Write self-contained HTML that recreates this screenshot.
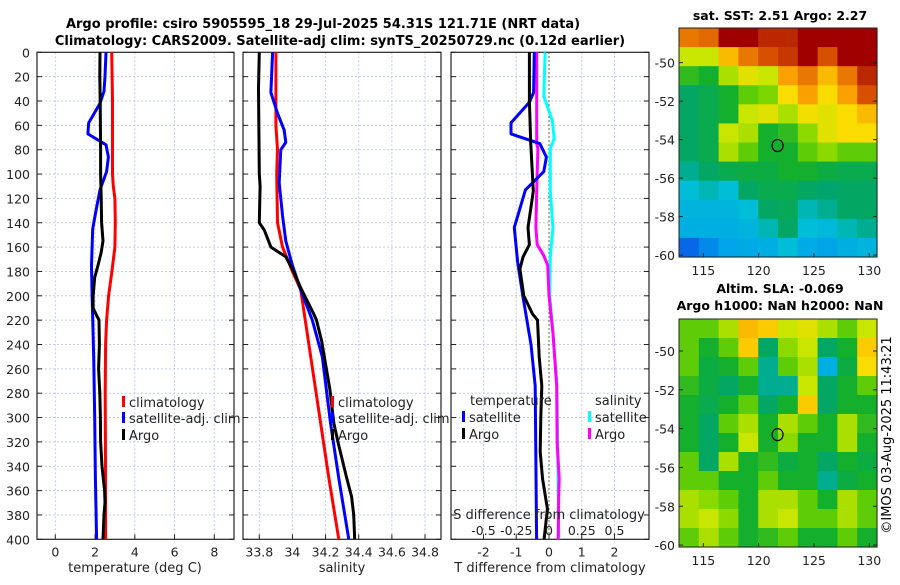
<!DOCTYPE html>
<html><head><meta charset="utf-8"><style>
body{margin:0;background:#fff;}
svg text{font-family:"DejaVu Sans","Liberation Sans",sans-serif;}
</style></head><body>
<svg id="fig" width="900" height="580" xmlns="http://www.w3.org/2000/svg">
<rect width="900" height="580" fill="#fff"/>
<text x="323" y="28" font-size="13" font-weight="bold" text-anchor="middle">Argo profile: csiro 5905595_18 29-Jul-2025 54.31S 121.71E (NRT data)</text>
<text x="340" y="45" font-size="13" font-weight="bold" text-anchor="middle">Climatology: CARS2009. Satellite-adj clim: synTS_20250729.nc (0.12d earlier)</text>
<text x="780" y="20" font-size="12.5" font-weight="bold" text-anchor="middle">sat. SST: 2.51 Argo: 2.27</text>
<text x="780" y="293" font-size="12.5" font-weight="bold" text-anchor="middle">Altim. SLA: -0.069</text>
<text x="780" y="310" font-size="12.5" font-weight="bold" text-anchor="middle">Argo h1000: NaN h2000: NaN</text>
<text transform="translate(891,435) rotate(-90)" font-size="13" text-anchor="middle">©IMOS 03-Aug-2025 11:43:21</text>
<g id="g"></g>
</svg>
<script>
// ---------- data ----------
const tClimDepth=[0,20,40,60,80,100,110,120,140,160,180,200,220,240,280,320,360,400];
const tClimVal=[2.84,2.86,2.88,2.88,2.88,2.88,2.92,3.0,3.02,3.0,2.85,2.68,2.58,2.53,2.51,2.52,2.53,2.53];
const tSatDepth=[0,20,32,42,58,67,76,86,98,113,130,145,175,200,250,300,350,400];
const tSatVal=[2.55,2.5,2.45,2.25,1.68,1.64,2.55,2.67,2.58,2.25,2.05,1.88,1.82,1.85,1.93,1.98,2.02,2.08];
const tArgoDepth=[0,20,40,60,80,100,120,140,155,165,175,185,200,210,215,220,240,260,280,300,320,340,360,370,380,400];
const tArgoVal=[2.25,2.24,2.26,2.27,2.28,2.28,2.31,2.33,2.4,2.3,2.15,1.98,1.9,1.9,2.05,2.2,2.22,2.18,2.24,2.27,2.28,2.35,2.48,2.5,2.45,2.4];
const sClimDepth=[0,40,60,80,100,140,160,170,180,195,250,300,350,400];
const sClimVal=[33.9,33.9,33.9,33.91,33.905,33.91,33.94,33.97,34.0,34.05,34.11,34.165,34.22,34.28];
const sSatDepth=[0,33,50,64,74,80,107,134,155,175,195,220,250,305,350,400];
const sSatVal=[33.88,33.87,33.91,33.95,33.96,33.93,33.92,33.94,33.96,34.0,34.05,34.12,34.18,34.23,34.28,34.34];
const sArgoDepth=[0,30,100,110,140,146,160,168,178,195,214,220,237,277,305,321,349,365,380,400];
const sArgoVal=[33.8,33.795,33.8,33.805,33.8,33.83,33.87,33.96,34.0,34.055,34.125,34.145,34.176,34.226,34.25,34.276,34.326,34.357,34.37,34.376];
const dtSatDepth=[0,33,41,58,67,75,86,98,113,144,172,200,240,274,400];
const dtSatVal=[-0.45,-0.47,-0.6,-1.16,-1.16,-0.28,-0.08,-0.16,-0.72,-1.06,-0.96,-0.8,-0.55,-0.42,-0.38];
const dtArgoDepth=[0,40,74,114,144,158,168,178,200,215,220,250,274,300,328,350,375,400];
const dtArgoVal=[-0.6,-0.6,-0.56,-0.48,-0.64,-0.6,-0.79,-0.89,-0.77,-0.5,-0.35,-0.3,-0.22,-0.25,-0.27,-0.2,-0.05,-0.15];
const dsSatDepth=[0,36,56,71,79,114,144,168,200,230,274,400];
const dsSatVal=[-0.03,-0.04,0.025,0.04,0.01,0.01,0.03,0.01,0.005,0.03,0.06,0.075];
const dsArgoDepth=[0,75,79,114,144,158,167,175,200,230,274,320,350,364,400];
const dsArgoVal=[-0.094,-0.094,-0.085,-0.094,-0.1,-0.09,-0.04,-0.01,0.0,0.03,0.059,0.062,0.078,0.074,0.07];
const depthTicks=[0,20,40,60,80,100,120,140,160,180,200,220,240,260,280,300,320,340,360,380,400];
const tTicks=[0,2,4,6,8];
const sTicks=[33.8,34,34.2,34.4,34.6,34.8];
const sTickLabels=["33.8","34","34.2","34.4","34.6","34.8"];
const dtTicks=[-2,-1,0,1,2];
const dsTicks=[-0.5,-0.25,0,0.25,0.5];
const latTicks=[-50,-52,-54,-56,-58,-60];
const lonTicks=[115,120,125,130];
const argoLon=121.71, argoLat=-54.31;
const sstGrid=[
[0.8,0.82,0.95,0.95,0.9,0.9,0.95,0.95,0.95,0.95],
[0.62,0.62,0.72,0.8,0.85,0.88,0.95,0.85,0.95,0.95],
[0.52,0.5,0.6,0.65,0.62,0.75,0.8,0.72,0.8,0.9],
[0.45,0.47,0.5,0.55,0.57,0.68,0.75,0.68,0.75,0.85],
[0.45,0.47,0.5,0.62,0.65,0.6,0.67,0.65,0.68,0.72],
[0.45,0.47,0.62,0.6,0.5,0.52,0.58,0.65,0.68,0.68],
[0.45,0.47,0.6,0.55,0.5,0.5,0.55,0.58,0.55,0.55],
[0.42,0.45,0.47,0.48,0.48,0.5,0.5,0.48,0.47,0.47],
[0.38,0.4,0.38,0.45,0.47,0.47,0.45,0.44,0.45,0.45],
[0.36,0.36,0.36,0.38,0.45,0.46,0.4,0.42,0.45,0.45],
[0.35,0.35,0.35,0.36,0.4,0.45,0.38,0.37,0.4,0.42],
[0.27,0.3,0.33,0.34,0.35,0.38,0.34,0.33,0.35,0.36]];
const slaGrid=[
[0.55,0.55,0.6,0.72,0.7,0.62,0.65,0.6,0.55,0.62],
[0.55,0.5,0.55,0.7,0.45,0.58,0.62,0.45,0.5,0.7],
[0.55,0.48,0.5,0.55,0.42,0.55,0.6,0.35,0.48,0.68],
[0.52,0.48,0.45,0.5,0.42,0.42,0.62,0.45,0.5,0.55],
[0.5,0.47,0.5,0.55,0.45,0.5,0.7,0.45,0.5,0.5],
[0.5,0.45,0.55,0.6,0.5,0.6,0.55,0.5,0.6,0.52],
[0.5,0.45,0.5,0.62,0.5,0.58,0.5,0.5,0.6,0.5],
[0.55,0.45,0.6,0.5,0.52,0.48,0.5,0.45,0.5,0.48],
[0.55,0.55,0.5,0.5,0.55,0.5,0.5,0.42,0.48,0.5],
[0.6,0.58,0.55,0.5,0.6,0.6,0.55,0.5,0.6,0.55],
[0.6,0.62,0.58,0.5,0.6,0.62,0.55,0.55,0.6,0.55],
[0.55,0.6,0.55,0.5,0.52,0.55,0.5,0.5,0.55,0.5]];

// ---------- helpers ----------
const NS="http://www.w3.org/2000/svg";
const G=document.getElementById('g');
function mk(tag,attrs,parent){const e=document.createElementNS(NS,tag);for(const k in attrs)e.setAttribute(k,attrs[k]);(parent||G).appendChild(e);return e;}
const PT=52.3,PB=539.3;
function yD(d){return PT+(d/400)*(PB-PT);}
function lin(d0,d1,r0,r1){return v=>r0+(v-d0)/(d1-d0)*(r1-r0);}
const panels=[
 {x0:37,x1:234,sc:lin(0,8,55.3,214.3),ticks:tTicks,labels:tTicks.map(String),name:'temperature'},
 {x0:243,x1:441,sc:lin(33.8,34.8,259.3,425),ticks:sTicks,labels:sTickLabels,name:'salinity'},
 {x0:451,x1:649,sc:lin(-2,2,483.5,614.5),ticks:dtTicks,labels:dtTicks.map(String),name:'difference'}];
panels.forEach((p,i)=>{
  const grp=mk('g',{});
  
  
  depthTicks.forEach(d=>{ if(d>0&&d<400){const l=mk('line',{x1:p.x0,x2:p.x1,y1:yD(d),y2:yD(d),stroke:'#c4cbe6','stroke-width':1,'stroke-dasharray':'2,2'},grp);}});
  p.ticks.forEach(t=>{const x=p.sc(t);const l=mk('line',{x1:x,x2:x,y1:PT,y2:PB,stroke:'#c4cbe6','stroke-width':1,'stroke-dasharray':'2,2'},grp);
    const tm=mk('line',{x1:x,x2:x,y1:PB,y2:PB-5,stroke:'#222'},grp);
    const tx=mk('text',{x:x,y:PB+17,'font-size':12.5,'text-anchor':'middle',fill:'#222'},grp);tx.textContent=p.labels[p.ticks.indexOf(t)];});
  depthTicks.forEach(d=>{const y=yD(d);
    mk('line',{x1:p.x0,x2:p.x0+5,y1:y,y2:y,stroke:'#222'},grp);
    mk('line',{x1:p.x1,x2:p.x1-5,y1:y,y2:y,stroke:'#222'},grp);
    if(i===0){const tx=mk('text',{x:30,y:y+5,'font-size':12.5,'text-anchor':'end',fill:'#222'},grp);tx.textContent=d;}});
  const fr=mk('rect',{x:p.x0,y:PT,width:p.x1-p.x0,height:PB-PT,fill:'none',stroke:'#222','stroke-width':1.2},grp);
  
  p.g=grp;
});
const dsScale=lin(-0.5,0.5,483.5,614.5);
const zl=mk('line',{x1:panels[2].sc(0),x2:panels[2].sc(0),y1:PT,y2:PB,stroke:'#556b2f','stroke-width':1.2,'stroke-dasharray':'1.5,2.5'});

function profile(depths,vals,sc,color,name,w){
  const pts=depths.map((d,k)=>sc(vals[k]).toFixed(1)+','+yD(d).toFixed(1)).join(' ');
  const pl=mk('polyline',{points:pts,fill:'none',stroke:color,'stroke-width':w||3,'stroke-linejoin':'round'});
  
  
}
profile(tClimDepth,tClimVal,panels[0].sc,'#ff0000','temp-climatology-line');
profile(tSatDepth,tSatVal,panels[0].sc,'#0000ff','temp-satellite-line');
profile(tArgoDepth,tArgoVal,panels[0].sc,'#000','temp-argo-line');
profile(sClimDepth,sClimVal,panels[1].sc,'#ff0000','sal-climatology-line');
profile(sSatDepth,sSatVal,panels[1].sc,'#0000ff','sal-satellite-line');
profile(sArgoDepth,sArgoVal,panels[1].sc,'#000','sal-argo-line');
profile(dsSatDepth,dsSatVal,dsScale,'#00ffff','sdiff-satellite-line');
profile(dsArgoDepth,dsArgoVal,dsScale,'#ff00ff','sdiff-argo-line');
profile(dtSatDepth,dtSatVal,panels[2].sc,'#0000ff','tdiff-satellite-line');
profile(dtArgoDepth,dtArgoVal,panels[2].sc,'#000','tdiff-argo-line');
function txt(x,y,s,fs,anchor,name){const t=mk('text',{x:x,y:y,'font-size':fs,'text-anchor':anchor||'middle',fill:'#222'});t.textContent=s;return t;}
txt(135,572,'temperature (deg C)',13,'middle','x-axis-title-temperature');
txt(342,572,'salinity',13,'middle','x-axis-title-salinity');
txt(550,572,'T difference from climatology',13,'middle','x-axis-title-tdiff');
txt(549,519,'S difference from climatology',13,'middle','inner-axis-title-sdiff');
dsTicks.forEach(v=>{txt(dsScale(v),535,String(v),12.5,'middle','sdiff-tick-label');});
function legend(x,y,color,label){const r=mk('rect',{x:x,y:y-11,width:3,height:11,fill:color});txt(x+7,y,label,13,'start','legend-entry');}
legend(122,407,'#ff0000','climatology');legend(122,423,'#0000ff','satellite-adj. clim');legend(122,440,'#000','Argo');
legend(331,407,'#ff0000','climatology');legend(331,423,'#0000ff','satellite-adj. clim');legend(331,440,'#000','Argo');
txt(470,405,'temperature',13,'start','legend-header-temperature');
legend(462,422,'#0000ff','satellite');legend(462,439,'#000','Argo');
txt(595,405,'salinity',13,'start','legend-header-salinity');
legend(588,422,'#00ffff','satellite');legend(588,439,'#ff00ff','Argo');
// ---------- maps ----------
const cmapStops=[[0.25,[10,80,230]],[0.32,[0,160,235]],[0.38,[0,190,215]],[0.44,[0,165,110]],[0.5,[20,175,45]],[0.56,[110,210,0]],[0.62,[200,230,0]],[0.68,[250,220,0]],[0.75,[250,160,0]],[0.85,[215,80,0]],[0.95,[160,0,0]]];
function cmap(v){
  if(v<=cmapStops[0][0])return 'rgb('+cmapStops[0][1].join(',')+')';
  for(let i=1;i<cmapStops.length;i++){if(v<=cmapStops[i][0]){const a=cmapStops[i-1],b=cmapStops[i],f=(v-a[0])/(b[0]-a[0]);
    return 'rgb('+a[1].map((c,k)=>Math.round(c+(b[1][k]-c)*f)).join(',')+')';}}
  return 'rgb('+cmapStops[cmapStops.length-1][1].join(',')+')';}
function drawMap(grid,x0,x1,y0,y1,latTop,latBot,name){
  const grp=mk('g',{});
  const rows=grid.length,cols=grid[0].length,cw=(x1-x0)/cols,ch=(y1-y0)/rows;
  grid.forEach((row,r)=>row.forEach((v,c)=>{const cell=mk('rect',{x:x0+c*cw,y:y0+r*ch,width:cw+0.6,height:ch+0.6,fill:cmap(v)},grp);}));
  const lonS=lin(112.8,130.7,x0,x1),latS=lin(latTop,latBot,y0,y1);
  mk('rect',{x:x0,y:y0,width:x1-x0,height:y1-y0,fill:'none',stroke:'#222'},grp);
  latTicks.forEach(l=>{const y=latS(l);mk('line',{x1:x0,x2:x0+4,y1:y,y2:y,stroke:'#222'},grp);mk('line',{x1:x1,x2:x1-4,y1:y,y2:y,stroke:'#222'},grp);
    const t=mk('text',{x:x0-4,y:y+5,'font-size':12.5,'text-anchor':'end',fill:'#222'},grp);t.textContent=l;});
  lonTicks.forEach(l=>{const x=lonS(l);mk('line',{x1:x,x2:x,y1:y1,y2:y1-4,stroke:'#222'},grp);
    const t=mk('text',{x:x,y:y1+18,'font-size':12.5,'text-anchor':'middle',fill:'#222'},grp);t.textContent=l;});
  const c=mk('ellipse',{cx:lonS(argoLon),cy:latS(argoLat),rx:5.5,ry:6,fill:'none',stroke:'#000','stroke-width':1.2},grp);
  
}
drawMap(sstGrid,679,877,28,257,-48.2,-60.1,'sst-map');
drawMap(slaGrid,679,877,319,547,-48.35,-60.1,'sla-map');
</script>
</body></html>
